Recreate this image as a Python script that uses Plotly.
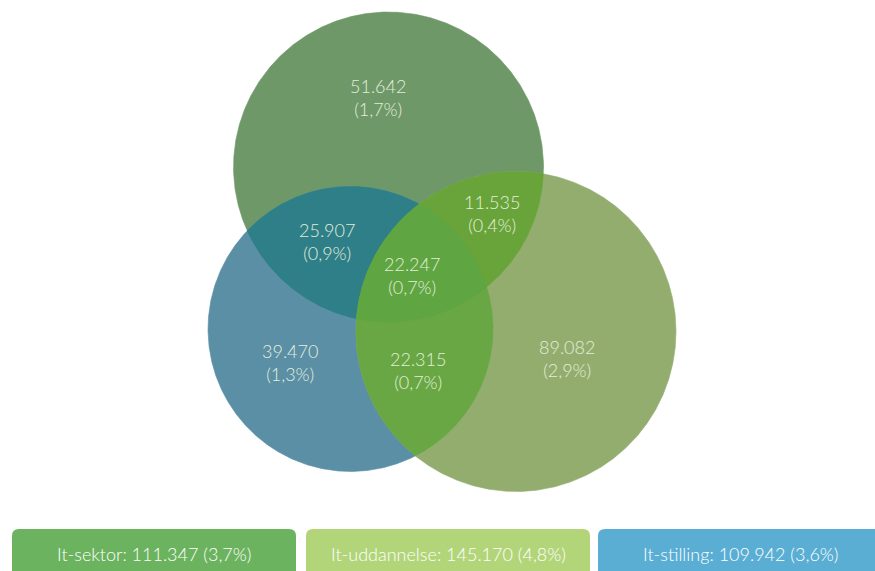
import numpy as np
import plotly.graph_objects as go

# Region counts and shares
region_keys = ["S", "U", "T", "SU", "ST", "UT", "SUT"]
region_counts = ["51.642", "89.082", "39.470", "11.535", "25.907", "22.315", "22.247"]
region_shares = ["(1,7%)", "(2,9%)", "(1,3%)", "(0,4%)", "(0,9%)", "(0,7%)", "(0,7%)"]

# Set totals for the legend boxes
set_names = ["It-sektor", "It-uddannelse", "It-stilling"]
set_totals = ["111.347", "145.170", "109.942"]
set_shares = ["(3,7%)", "(4,8%)", "(3,6%)"]

# Circle layout (pixel space): S = sektor, U = uddannelse, T = stilling
circles = {
    "S": (388.5, 167.0, 155.0),
    "U": (516.0, 331.5, 160.0),
    "T": (350.5, 329.0, 142.5),
}
region_colors = {
    "S": "#6E9868",
    "U": "#92AD6E",
    "T": "#5B8FA5",
    "ST": "#2E7F87",
    "SU": "#69A43A",
    "UT": "#69A744",
    "SUT": "#5FA542",
}
label_pos = {
    "S": (378, 97),
    "U": (567, 358),
    "T": (290, 362),
    "SU": (492, 213),
    "ST": (327, 241),
    "UT": (418, 370),
    "SUT": (412, 275),
}
box_colors = ["#6BB35E", "#B3D57A", "#5AAED3"]
box_x = [(12, 296), (306, 590), (598, 890)]

N = 1440
theta = np.linspace(0, 2 * np.pi, N, endpoint=False)


def ring(key):
    cx, cy, r = circles[key]
    return np.column_stack([cx + r * np.cos(theta), cy + r * np.sin(theta)])


def inside(pts, key):
    cx, cy, r = circles[key]
    return (pts[:, 0] - cx) ** 2 + (pts[:, 1] - cy) ** 2 <= r * r + 1e-6


def intersection(keys):
    pieces = []
    for k in keys:
        pts = ring(k)
        mask = np.ones(len(pts), dtype=bool)
        for o in keys:
            if o != k:
                mask &= inside(pts, o)
        pieces.append(pts[mask])
    pts = np.vstack(pieces)
    c = pts.mean(axis=0)
    order = np.argsort(np.arctan2(pts[:, 1] - c[1], pts[:, 0] - c[0]))
    return pts[order]


fig = go.Figure()


def add_poly(pts, color):
    fig.add_trace(go.Scatter(
        x=np.append(pts[:, 0], pts[0, 0]), y=np.append(pts[:, 1], pts[0, 1]),
        mode="lines", fill="toself", fillcolor=color,
        line=dict(width=0.6, color=color), hoverinfo="skip", showlegend=False,
    ))


for k in ["S", "T", "U"]:
    add_poly(ring(k), region_colors[k])
for combo in [("S", "T"), ("S", "U"), ("U", "T")]:
    add_poly(intersection(combo), region_colors["".join(combo)])
add_poly(intersection(("S", "U", "T")), region_colors["SUT"])

for key, cnt, shr in zip(region_keys, region_counts, region_shares):
    x, y = label_pos[key]
    fig.add_annotation(x=x, y=y, text=f"{cnt}<br>{shr}", showarrow=False,
                       font=dict(family="Lato", size=18, color="#E2EEDA", weight=300),
                       xanchor="center", yanchor="middle", align="center")


def rounded_rect(x0, x1, y0, y1, rad):
    return (f"M {x0 + rad},{y0} L {x1 - rad},{y0} Q {x1},{y0} {x1},{y0 + rad} "
            f"L {x1},{y1} L {x0},{y1} L {x0},{y0 + rad} Q {x0},{y0} {x0 + rad},{y0} Z")


for (x0, x1), col, name, tot, shr in zip(box_x, box_colors, set_names, set_totals, set_shares):
    fig.add_shape(type="path", path=rounded_rect(x0, x1, 529, 580, 7),
                  xref="x", yref="y", fillcolor=col, line=dict(width=0), layer="below")
    fig.add_annotation(x=(x0 + min(x1, 884)) / 2, y=554, text=f"{name}: {tot} {shr}",
                       showarrow=False, xanchor="center", yanchor="middle",
                       font=dict(family="Lato", size=18, color="#FFFFFF", weight=300))

fig.update_layout(
    width=875, height=571, margin=dict(l=0, r=0, t=0, b=0),
    paper_bgcolor="white", plot_bgcolor="white",
    xaxis=dict(range=[0, 875], visible=False, fixedrange=True),
    yaxis=dict(range=[571, 0], visible=False, fixedrange=True),
)
fig.write_html("out.html")
